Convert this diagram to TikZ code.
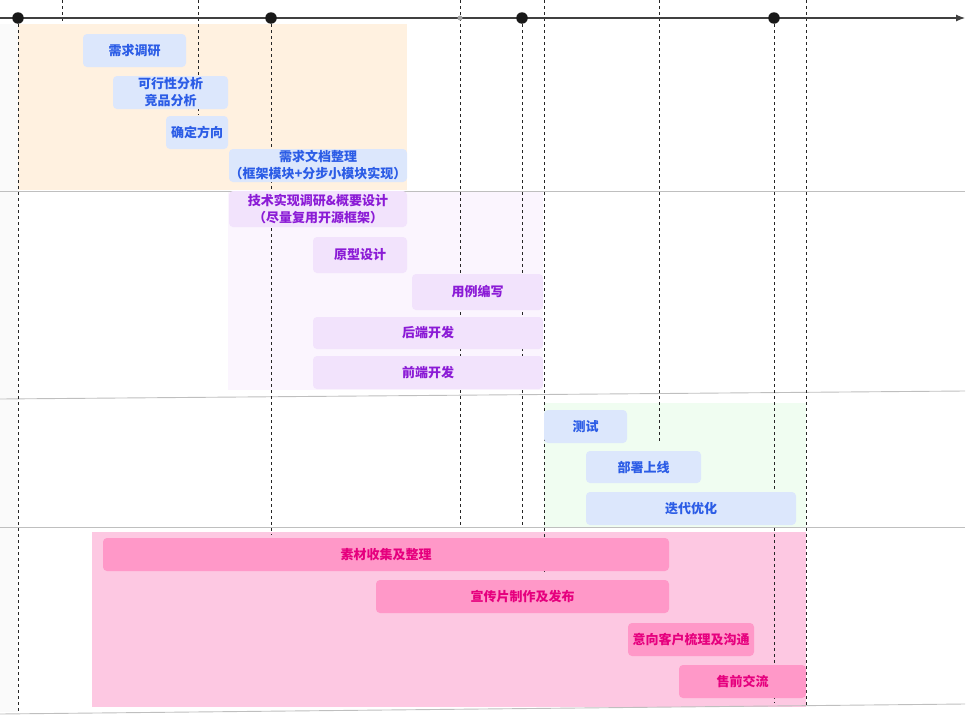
\documentclass[tikz,border=0pt]{standalone}
\usepackage{fontspec}
\newfontfamily\cjk{Noto Sans CJK SC}
\usetikzlibrary{arrows.meta}

\definecolor{bgorange}{HTML}{FFF1E0}
\definecolor{bgpurple}{HTML}{FBF5FE}
\definecolor{bggreen}{HTML}{F0FDF1}
\definecolor{bgpink}{HTML}{FDC8E2}
\definecolor{boxblue}{HTML}{DCE7FC}
\definecolor{boxpurple}{HTML}{F2E3FC}
\definecolor{boxpink}{HTML}{FF98C8}
\definecolor{txtblue}{HTML}{2B5CE6}
\definecolor{txtpurple}{HTML}{8B1BD6}
\definecolor{txtpink}{HTML}{E6007E}

\begin{document}
\begin{tikzpicture}[x=1pt,y=-1pt,
  task/.style={rounded corners=4pt, inner sep=0pt, align=center,
    font=\cjk\bfseries\fontsize{13}{17}\selectfont},
  bluetask/.style={task, fill=boxblue, text=txtblue},
  purpletask/.style={task, fill=boxpurple, text=txtpurple},
  pinktask/.style={task, fill=boxpink, text=txtpink},
  guide/.style={black!85, line width=0.9pt, dash pattern=on 3pt off 3pt},
  sep/.style={black!25, line width=0.9pt},
  milestone/.style={circle, fill=black!90, inner sep=0pt, minimum size=11.5pt}]
\useasboundingbox (0,0) rectangle (975,715);

% phase backgrounds
\fill[black!2] (0,24) rectangle (18,712);
\fill[bgorange] (18,24) rectangle (407,190);
\fill[bgpurple] (228,191) rectangle (543,390);
\fill[bggreen] (544,403) rectangle (806,527);
\fill[bgpink] (92,532) rectangle (806,707);

% phase separators
\draw[sep] (0,191) -- (965,191);
\draw[sep] (0,399) -- (965,391);
\draw[sep] (0,527) -- (965,527);
\draw[sep] (0,714) -- (965,704);

% time guides
\draw[guide] (18,18) -- (18,712);
\draw[guide] (62,0) -- (62,23);
\draw[guide] (198,0) -- (198,115);
\draw[guide] (271,18) -- (271,535);
\draw[guide] (460,0) -- (460,527);
\draw[guide] (522,18) -- (522,527);
\draw[guide] (544,0) -- (544,572);
\draw[guide] (659,0) -- (659,443);
\draw[guide] (774,18) -- (774,703);
\draw[guide] (806,0) -- (806,707);

% time axis
\draw[black!75, line width=1.1pt, -{Latex[length=9pt,width=7pt]}] (0,18) -- (965,18);
\node[milestone] (t0) at (18,18) {};
\node[milestone] (t1) at (271,18) {};
\node[circle, fill=black!35, inner sep=0pt, minimum size=5pt] (tmid) at (460,18) {};
\node[milestone] (t2) at (522,18) {};
\node[milestone] (t3) at (774,18) {};

% requirement phase
\node[bluetask, minimum width=103, minimum height=33] (survey) at (134.5,50.5) {需求调研};
\node[bluetask, minimum width=115, minimum height=33] (feasible) at (170.5,92.5) {可行性分析\\竞品分析};
\node[bluetask, minimum width=62, minimum height=33] (direction) at (197,132.5) {确定方向};
\node[bluetask, minimum width=178, minimum height=33] (reqdoc) at (318,165.5) {需求文档整理\\（框架模块+分步小模块实现）};

% development phase
\node[purpletask, minimum width=178, minimum height=36] (techdesign) at (318,209) {技术实现调研\&概要设计\\（尽量复用开源框架）};
\node[purpletask, minimum width=94, minimum height=36] (prototype) at (360,255) {原型设计};
\node[purpletask, minimum width=131, minimum height=36] (usecase) at (477.5,292) {用例编写};
\node[purpletask, minimum width=230, minimum height=32] (backend) at (428,333) {后端开发};
\node[purpletask, minimum width=230, minimum height=33] (frontend) at (428,372.5) {前端开发};

% release phase
\node[bluetask, minimum width=83, minimum height=33] (testing) at (585.5,426.5) {测试};
\node[bluetask, minimum width=115, minimum height=32] (deploy) at (643.5,467) {部署上线};
\node[bluetask, minimum width=210, minimum height=33] (iterate) at (691,508.5) {迭代优化};

% marketing
\node[pinktask, minimum width=566, minimum height=33] (material) at (386,554.5) {素材收集及整理};
\node[pinktask, minimum width=293, minimum height=33] (promo) at (522.5,596.5) {宣传片制作及发布};
\node[pinktask, minimum width=126, minimum height=33] (clients) at (691,639.5) {意向客户梳理及沟通};
\node[pinktask, minimum width=127, minimum height=33] (presales) at (742.5,681.5) {售前交流};
\end{tikzpicture}
\end{document}
